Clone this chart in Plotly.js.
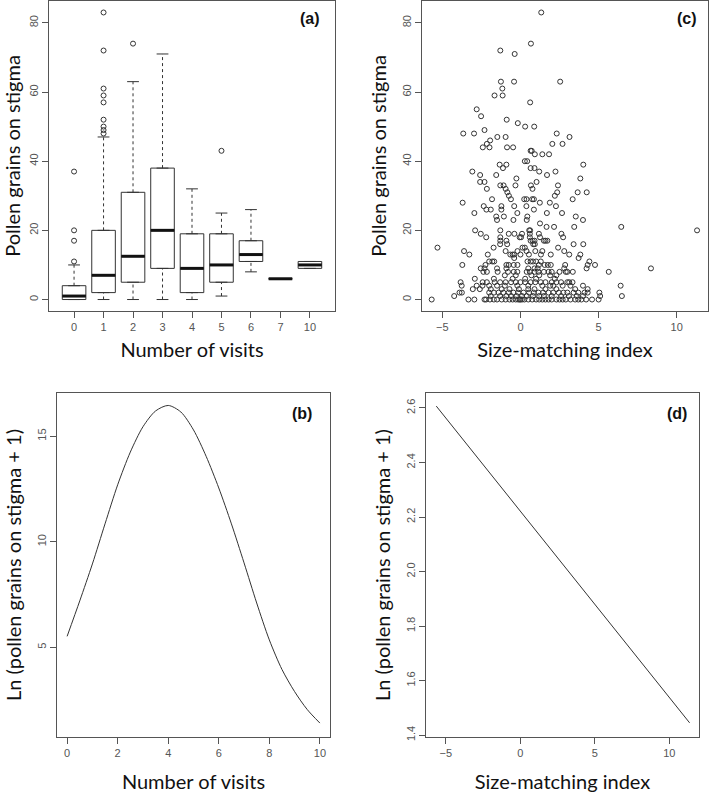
<!DOCTYPE html>
<html>
<head>
<meta charset="utf-8">
<script src="https://cdn.plot.ly/plotly-3.0.1.min.js"></script>
<style>
  body { margin: 0; background: #fff; }
  #chart { width: 709px; height: 794px; }
</style>
</head>
<body>
<div id="chart"></div>
<script>
// (a) box plot summaries, one per number of visits
const visitLabels = ['0', '1', '2', '3', '4', '5', '6', '7', '10'];
const boxQ1 = [0, 2, 5, 9, 2, 5, 11, 6, 9];
const boxMedian = [1, 7, 12.5, 20, 9, 10, 13, 6, 10];
const boxQ3 = [4, 20, 31, 38, 19, 19, 17, 6, 11];
const whiskLow = [0, 0, 0, 0, 0, 1, 8, 6, 9];
const whiskHigh = [10, 47, 63, 71, 32, 25, 26, 6, 11];
const outlierGroup = [0, 0, 0, 0, 1, 1, 1, 1, 1, 1, 1, 1, 1, 2, 5];
const outlierValue = [11, 17, 20, 37, 48, 49, 50, 52, 57, 59, 61, 72, 83, 74, 43];

// (c) pollen count per flower, grouped by count, with size-matching index
const scatterLevels = [83, 74, 72, 71, 63, 61, 59, 57, 55, 53, 52, 51, 50, 49, 48, 47, 46, 45, 44, 43, 42,
  40, 39, 38, 37, 36, 35, 34, 33, 32, 31, 30, 29, 28, 27, 26, 25, 24, 23, 22, 21, 20,
  19, 18, 17, 16, 15, 14, 13, 12, 11, 10, 9, 8, 7, 6, 5, 4, 3, 2, 1, 0];
const scatterSM = [
  [1.33], [0.67], [-1.29], [-0.37], [-1.25, -0.41, 2.54], [-1.16], [-1.66, -1.14], [0.62], [-2.8], [-2.52],
  [-0.88], [-0.17], [0.3, 0.88], [-2.3], [-3.66, -2.97, 2.32], [-1.48, -0.95, 3.14], [-1.94],
  [-2.15, 2.04, 2.69], [-2.41, -1.98, -0.86, -0.47], [0.65, 0.72], [0.92, 1.4, 1.83],
  [0.28, 0.43], [-1.33, -0.9, 4.02], [-1.12, 0.65, 0.9], [-3.08, 1.2, 2.24], [-2.58, -1.55, 1.7],
  [-0.26, 3.83], [-2.58, -2.3, 1.03], [-1.29, -1.08, -0.32, 0.67, 2.4], [-2.15, -0.95, 0.77],
  [-0.84, 2.35, 3.66, 4.24], [-0.74, 2.2], [-1.82, -0.61, 0.24, 0.39, 0.75, 0.86, 3.34],
  [-3.7, 1.24, 1.88], [-2.35, -1.22, -0.4, 0.38, 2.27], [-2.18, -1.9, -1.22, 0.86],
  [-2.95, -0.2, 1.69, 2.66], [-1.55, -1.06, 0.44, 3.54], [-1.5, -0.45, 0.4, 4.0], [1.25],
  [1.67, 2.15, 3.44, 6.45], [-2.9, -1.29, 0.56, 0.62, 11.3],
  [-2.54, -0.75, -0.39, 0.1, 0.6, 1.18, 2.62],
  [-2.19, -1.29, -0.05, 0.04, 0.6, 1.25, 2.73],
  [-1.29, -0.9, 0.65, 0.78, 0.9, 1.5, 1.6, 1.72],
  [-1.3, -0.85, 0.82, 0.92, 3.4, 4.02],
  [-5.31, -1.72, 0.13, 0.28, 2.41],
  [-3.61, -0.95, -0.19, 0.39, 0.95, 1.4, 2.8],
  [-3.27, -2.09, -0.65, -0.5, -0.4, 0.0, 0.54, 1.31, 1.94, 3.12, 3.83],
  [-0.4, 3.72],
  [-2.0, -1.8, -1.68, 0.45, 0.65, 0.8, 1.0, 1.3, 4.41],
  [-3.72, -2.24, -0.9, -0.75, -0.43, -0.19, 1.18, 1.55, 1.75, 1.94, 2.86, 4.3, 4.77],
  [-2.54, -2.3, -1.5, -0.9, 0.5, 0.9, 1.1, 2.8, 4.23, 8.35],
  [-2.37, -2.15, -1.46, -0.8, -0.43, -0.2, 0.4, 0.6, 0.9, 1.15, 1.5, 1.8, 2.0, 2.5, 2.9, 3.0, 3.35, 5.65],
  [-1.0, -0.3, 0.7, 1.2, 1.9, 2.3],
  [-2.92, -1.7, -0.5, 0.3, 1.0, 2.2],
  [-3.83, -2.42, -2.15, -1.65, -1.3, -0.95, -0.6, -0.3, 0.0, 0.3, 0.65, 0.95, 1.3, 1.6, 2.0, 2.3, 2.6, 3.0, 3.12, 3.33],
  [-3.76, -2.8, -2.43, -2.0, -1.5, -1.0, -0.2, 0.5, 1.4, 1.9, 2.1, 2.7, 3.2, 4.0, 6.41],
  [-3.05, -2.6, -1.9, -1.2, -0.7, -0.1, 0.5, 0.9, 1.6, 2.3, 3.5, 4.3],
  [-3.9, -3.75, -2.0, -1.7, -1.4, -1.1, -0.75, -0.45, -0.15, 0.2, 0.55, 0.85, 1.15, 1.45, 1.8, 2.1, 2.45, 2.75, 3.0, 3.4, 3.7, 4.1, 4.3, 5.05],
  [-4.24, -1.9, -1.3, -0.9, -0.6, -0.25, 0.1, 0.4, 0.8, 1.2, 1.5, 2.0, 2.6, 3.1, 3.6, 4.0, 5.1, 6.49],
  [-5.68, -3.33, -2.95, -2.3, -2.2, -1.95, -1.7, -1.5, -1.2, -0.95, -0.7, -0.5, -0.3, -0.15, -0.05, 0.0, 0.1, 0.25, 0.5, 0.75,
   1.0, 1.2, 1.4, 1.6, 1.8, 2.0, 2.3, 2.5, 2.7, 2.9, 3.2, 3.5, 3.7, 3.9, 4.2, 4.58, 5.0]
];

// (b) fitted curve against number of visits
const curveVisits = [0, 0.5, 1, 1.5, 2, 2.5, 3, 3.5, 4, 4.5, 5, 5.5, 6, 6.5, 7, 7.5, 8, 8.5, 9, 9.5, 10];
const curveLn = [5.52, 7.2, 8.95, 10.85, 12.7, 14.25, 15.45, 16.2, 16.46, 16.15, 15.3, 14.05, 12.55,
  10.85, 9.0, 7.1, 5.35, 3.95, 2.9, 2.05, 1.41];

// (d) fitted line against size-matching index
const lineSM = [-5.64, 11.36];
const lineLn = [2.607, 1.445];

const ink = '#333';
const boxHalf = 0.4;
const stapleHalf = 0.2;

const groupX = visitLabels.map((_, i) => i);

// whiskers (dashed) and staples built from the summaries
const whiskX = [], whiskY = [], stapleX = [], stapleY = [];
groupX.forEach(i => {
    if (whiskHigh[i] > boxQ3[i]) {
        whiskX.push(i, i, null); whiskY.push(boxQ3[i], whiskHigh[i], null);
    }
    if (whiskLow[i] < boxQ1[i]) {
        whiskX.push(i, i, null); whiskY.push(whiskLow[i], boxQ1[i], null);
    }
    if (whiskHigh[i] > boxQ3[i] || whiskLow[i] < boxQ1[i]) {
        stapleX.push(i - stapleHalf, i + stapleHalf, null); stapleY.push(whiskHigh[i], whiskHigh[i], null);
        stapleX.push(i - stapleHalf, i + stapleHalf, null); stapleY.push(whiskLow[i], whiskLow[i], null);
    }
});
const medX = [], medY = [];
groupX.forEach(i => {
    medX.push(i - boxHalf, i + boxHalf, null); medY.push(boxMedian[i], boxMedian[i], null);
});

const scatX = [], scatY = [];
scatterLevels.forEach((lvl, k) => {
    scatterSM[k].forEach(v => { scatX.push(v); scatY.push(lvl); });
});

const traces = [
    {
        type: 'box', x: groupX, q1: boxQ1, median: boxMedian, q3: boxQ3,
        lowerfence: boxQ1, upperfence: boxQ3, width: 2 * boxHalf,
        fillcolor: '#fff', line: { color: ink, width: 1 }, boxpoints: false,
        xaxis: 'x', yaxis: 'y', hoverinfo: 'skip'
    },
    {
        type: 'scatter', mode: 'lines', x: whiskX, y: whiskY,
        line: { color: ink, width: 1, dash: '3px,3px' }, xaxis: 'x', yaxis: 'y'
    },
    {
        type: 'scatter', mode: 'lines', x: stapleX, y: stapleY,
        line: { color: ink, width: 1 }, xaxis: 'x', yaxis: 'y'
    },
    {
        type: 'scatter', mode: 'lines', x: medX, y: medY,
        line: { color: '#111', width: 3 }, xaxis: 'x', yaxis: 'y'
    },
    {
        type: 'scatter', mode: 'markers', x: outlierGroup, y: outlierValue,
        marker: { symbol: 'circle-open', size: 5, color: ink, line: { width: 1 } },
        xaxis: 'x', yaxis: 'y'
    },
    {
        type: 'scatter', mode: 'markers', x: scatX, y: scatY,
        marker: { symbol: 'circle-open', size: 5, color: ink, line: { width: 1 } },
        xaxis: 'x2', yaxis: 'y2'
    },
    {
        type: 'scatter', mode: 'lines', x: curveVisits, y: curveLn,
        line: { color: ink, width: 1, shape: 'spline', smoothing: 0.8 }, xaxis: 'x3', yaxis: 'y3'
    },
    {
        type: 'scatter', mode: 'lines', x: lineSM, y: lineLn,
        line: { color: ink, width: 1 }, xaxis: 'x4', yaxis: 'y4'
    }
];

const W = 709, H = 794;
const titleFont = { family: 'Lato, sans-serif', size: 20, color: '#111' };

function axis(domain, range, extra) {
    return Object.assign({
        domain: domain, range: range,
        showline: true, mirror: true, linecolor: '#555', linewidth: 1,
        ticks: 'outside', ticklen: 6, tickcolor: '#555',
        tickfont: { family: 'Liberation Sans, Arial, sans-serif', size: 11, color: '#555' },
        showgrid: false, zeroline: false, automargin: false, fixedrange: true
    }, extra);
}
function xd(l, r) { return [l / W, r / W]; }
function yd(top, bottom) { return [1 - bottom / H, 1 - top / H]; }

function label(text, px, py) {
    return {
        text: text, xref: 'paper', yref: 'paper', x: px / W, y: 1 - py / H,
        showarrow: false, xanchor: 'center', yanchor: 'middle',
        font: { family: 'Liberation Sans, Arial, sans-serif', size: 16, color: '#111', weight: 'bold' }
    };
}

const layout = {
    width: W, height: H,
    margin: { l: 0, r: 0, t: 0, b: 0 },
    paper_bgcolor: '#fff', plot_bgcolor: '#fff',
    showlegend: false,
    xaxis: axis(xd(49, 335), [-0.85, 8.85], {
        anchor: 'y', tickvals: groupX, ticktext: visitLabels,
        title: { text: 'Number of visits', font: titleFont, standoff: 10 }
    }),
    yaxis: axis(yd(1, 311), [-3.32, 86.32], {
        anchor: 'x', tickvals: [0, 20, 40, 60, 80], tickangle: -90,
        title: { text: 'Pollen grains on stigma', font: titleFont, standoff: 8 }
    }),
    xaxis2: axis(xd(422, 708), [-6.3, 12.0], {
        anchor: 'y2', tickvals: [-5, 0, 5, 10],
        title: { text: 'Size-matching index', font: titleFont, standoff: 10 }
    }),
    yaxis2: axis(yd(1, 311), [-3.32, 86.32], {
        anchor: 'x2', tickvals: [0, 20, 40, 60, 80], tickangle: -90,
        title: { text: 'Pollen grains on stigma', font: titleFont, standoff: 8 }
    }),
    xaxis3: axis(xd(57, 330), [-0.4, 10.4], {
        anchor: 'y3', tickvals: [0, 2, 4, 6, 8, 10],
        title: { text: 'Number of visits', font: titleFont, standoff: 16 }
    }),
    yaxis3: axis(yd(393, 737), [0.75, 17.05], {
        anchor: 'x3', tickvals: [5, 10, 15], tickangle: -90,
        title: { text: 'Ln (pollen grains on stigma + 1)', font: titleFont, standoff: 8 }
    }),
    xaxis4: axis(xd(426, 699), [-6.33, 11.99], {
        anchor: 'y4', tickvals: [-5, 0, 5, 10],
        title: { text: 'Size-matching index', font: titleFont, standoff: 16 }
    }),
    yaxis4: axis(yd(393, 737), [1.393, 2.655], {
        anchor: 'x4', tickvals: [1.4, 1.6, 1.8, 2.0, 2.2, 2.4, 2.6], tickformat: '.1f', tickangle: -90,
        title: { text: 'Ln (pollen grains on stigma + 1)', font: titleFont, standoff: 8 }
    }),
    annotations: [
        label('(a)', 310, 19),
        label('(c)', 687, 19),
        label('(b)', 302, 413),
        label('(d)', 677, 413)
    ]
};

Plotly.newPlot('chart', traces, layout, { displayModeBar: false, staticPlot: true });
</script>
</body>
</html>
